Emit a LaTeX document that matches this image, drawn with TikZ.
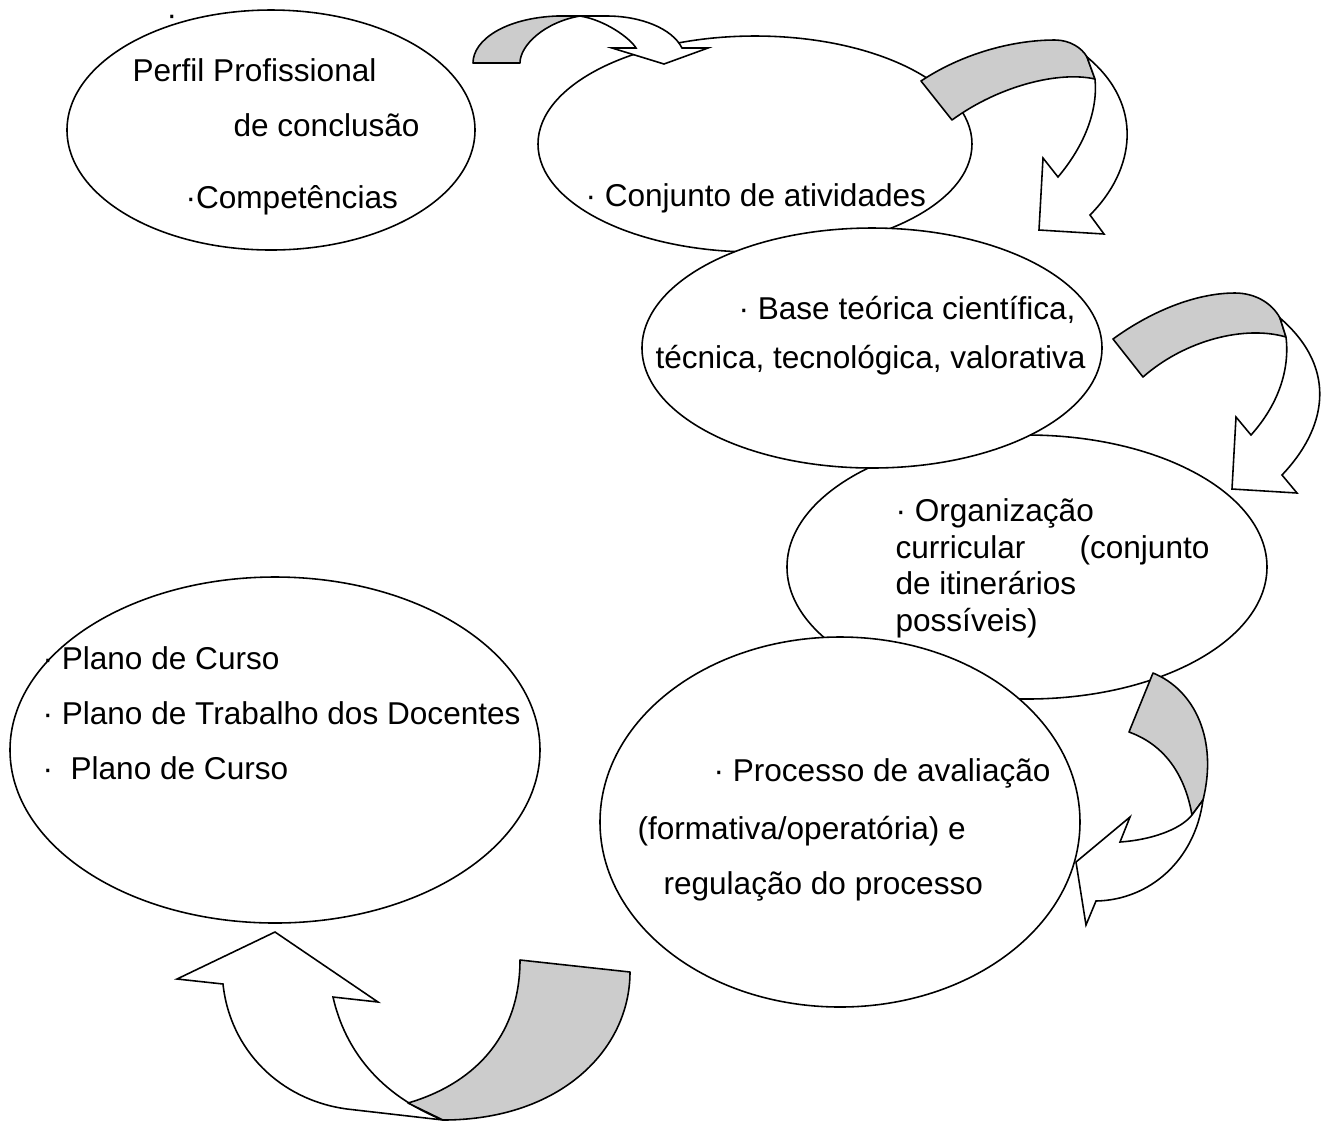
\documentclass[tikz,border=0pt]{standalone}
\usepackage{fontspec}
\setmainfont{Liberation Sans}
\definecolor{BandGray}{RGB}{204,204,204}
\usetikzlibrary{shapes.geometric}
\newlength{\pxlen}
\setlength{\pxlen}{0.38pt}
\tikzset{
    bubble/.style={
        draw,
        ellipse,
        fill=white,
        line width=0.6pt,
        inner sep=0pt
    },
    txt/.style={anchor=mid west, inner sep=0pt, yshift=-1.8pt, font=\fontsize{12}{14}\selectfont},
    back/.style={draw, fill=BandGray, line width=0.6pt, line join=round},
    face/.style={draw, fill=white, line width=0.6pt, line join=miter}
}

\begin{document}
\begin{tikzpicture}[x=0.38pt, y=-0.38pt]
        \useasboundingbox (0,0) rectangle (1325,1120);

        % ellipses
        \node[bubble, minimum width=408\pxlen, minimum height=240\pxlen] (perfil) at (271,130) {};
        \node[bubble, minimum width=434\pxlen, minimum height=216\pxlen] (atividades) at (755,144) {};
        \node[bubble, minimum width=480\pxlen, minimum height=264\pxlen] (organizacao) at (1027,567) {};
        \node[bubble, minimum width=460\pxlen, minimum height=240\pxlen] (base) at (872,348) {};
        \node[bubble, minimum width=480\pxlen, minimum height=370\pxlen] (avaliacao) at (840,822) {};
        \node[bubble, minimum width=530\pxlen, minimum height=346\pxlen] (planos) at (275,750) {};

        % texts
        \node[txt] (ponto) at (166,14) {·};
        \node[txt] (perfil1) at (132,70) {Perfil Profissional};
        \node[txt] (perfil2) at (233,125) {de conclusão};
        \node[txt] (perfil3) at (185,197) {·Competências};

        \node[txt] (ativ1) at (585,195) {· Conjunto de atividades};

        \node[txt] (base1) at (738,308) {· Base teórica científica,};
        \node[txt] (base2) at (655,357) {técnica, tecnológica, valorativa};

        \node[txt] (org1) at (895,510) {· Organização};
        \node[txt] (org2) at (895,547) {\makebox[314\pxlen][s]{curricular\hfill(conjunto}};
        \node[txt] (org3) at (895,583) {de itinerários};
        \node[txt] (org4) at (895,620) {possíveis)};

        \node[txt] (aval1) at (713,770) {· Processo de avaliação};
        \node[txt] (aval2) at (637,828) {(formativa/operatória) e};
        \node[txt] (aval3) at (663,883) {regulação do processo};

        \node[txt] (plano1) at (42,658) {· Plano de Curso};
        \node[txt] (plano2) at (42,713) {· Plano de Trabalho dos Docentes};
        \node[txt] (plano3) at (42,768) {·\ \ Plano de Curso};

        % perfil -> atividades
        \draw[back] (473,63) .. controls (473,40) and (505,18) .. (557,16) -- (580,16)
            .. controls (545,22) and (520,45) .. (520,63) -- cycle;
        \draw[face] (580,16) -- (607,16) .. controls (640,16) and (672,28) .. (682,48) -- (708,48)
            -- (664,64) -- (612,48) -- (636,48) .. controls (630,38) and (605,20) .. (580,16) -- cycle;

        % atividades -> base
        \draw[back] (921,81) .. controls (960,55) and (1010,40) .. (1055,40)
            .. controls (1070,40) and (1082,48) .. (1087,57) -- (1095,79)
            .. controls (1060,71) and (1000,85) .. (952,120) -- cycle;
        \draw[face] (1087,57) .. controls (1145,105) and (1135,170) .. (1090,215) -- (1104,234)
            -- (1039,230) -- (1043,158) -- (1058,177)
            .. controls (1085,145) and (1098,110) .. (1095,79) -- cycle;

        % base -> organizacao
        \draw[back] (1113,339) .. controls (1150,312) and (1195,293) .. (1235,293)
            .. controls (1255,293) and (1272,303) .. (1280,318) -- (1286,337)
            .. controls (1245,325) and (1185,340) .. (1143,377) -- cycle;
        \draw[face] (1280,318) .. controls (1340,370) and (1325,430) .. (1282,475) -- (1297,493)
            -- (1232,489) -- (1236,417) -- (1251,435)
            .. controls (1278,405) and (1290,370) .. (1286,337) -- cycle;

        % organizacao -> avaliacao
        \draw[back] (1153,673) .. controls (1195,690) and (1218,740) .. (1203,800) -- (1192,815)
            .. controls (1185,775) and (1165,745) .. (1129,732) -- cycle;
        \draw[face] (1203,800) .. controls (1195,860) and (1150,900) .. (1096,901) -- (1086,925)
            -- (1076,862) -- (1130,817) -- (1120,842)
            .. controls (1150,840) and (1180,830) .. (1192,815) -- cycle;

        % avaliacao -> planos
        \draw[face] (223,984) -- (177,979) -- (275,932) -- (378,1002) -- (333,997)
            .. controls (345,1050) and (380,1095) .. (443,1120) -- (347,1109)
            .. controls (280,1100) and (230,1050) .. (223,984) -- cycle;
        \draw[back] (520,960) -- (630,972) .. controls (630,1050) and (560,1120) .. (443,1120)
            -- (408,1103) .. controls (470,1085) and (520,1040) .. (520,960) -- cycle;

\end{tikzpicture}
\end{document}
